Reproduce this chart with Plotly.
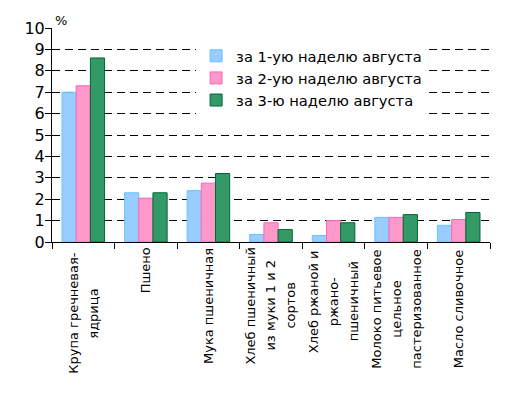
import plotly.graph_objects as go

categories = [
    "Крупа гречневая-<br>ядрица",
    "Пшено",
    "Мука пшеничная",
    "Хлеб пшеничный<br>из муки 1 и 2<br>сортов",
    "Хлеб ржаной и<br>ржано-<br>пшеничный",
    "Молоко питьевое<br>цельное<br>пастеризованное",
    "Масло сливочное",
]
series_names = ["за 1-ую наделю августа", "за 2-ую наделю августа", "за 3-ю наделю августа"]
week1 = [7.0, 2.3, 2.4, 0.35, 0.3, 1.15, 0.78]
week2 = [7.3, 2.05, 2.75, 0.9, 1.0, 1.15, 1.05]
week3 = [8.6, 2.3, 3.2, 0.58, 0.9, 1.28, 1.38]
y_ticks = list(range(0, 11))

fills = ["#99CCFF", "#FF99CC", "#339966"]
borders = ["#66C2FF", "#FF66B8", "#006633"]
FONT = "DejaVu Sans"
LABEL_SIZE = 13
LINE_GAP = 20      # px between label lines
CHAR_W = 7.8       # approx px per char at LABEL_SIZE

x = list(range(len(categories)))
fig = go.Figure()
for name, vals, fc, bc in zip(series_names, [week1, week2, week3], fills, borders):
    fig.add_trace(go.Bar(x=x, y=vals, name=name,
                         marker=dict(color=fc, line=dict(color=bc, width=1))))

# category labels: rotated, lines centred on each other, block starts under axis
for i, c in enumerate(categories):
    lines = c.split("<br>")
    n = len(lines)
    block = max(len(s) for s in lines) * CHAR_W
    for j, s in enumerate(lines):
        fig.add_annotation(x=i, y=0, xref="x", yref="paper", text=s,
                           textangle=-90, showarrow=False, xanchor="center",
                           yanchor="middle", align="center",
                           xshift=(j - (n - 1) / 2) * LINE_GAP,
                           yshift=-(9 + block / 2),
                           font=dict(family=FONT, size=LABEL_SIZE, color="black"))

fig.add_annotation(x=0.0, y=1.0, xref="paper", yref="paper", text="%",
                   showarrow=False, xanchor="left", yanchor="bottom",
                   xshift=1, yshift=-2, font=dict(family=FONT, size=13, color="black"))

fig.update_layout(
    width=497, height=391,
    margin=dict(l=44, r=15, t=20, b=157, autoexpand=False),
    paper_bgcolor="white", plot_bgcolor="white",
    barmode="group", bargap=0.32, bargroupgap=0,
    font=dict(family=FONT, size=14, color="black"),
    legend=dict(x=0.329, y=0.945, xanchor="left", yanchor="top",
                bgcolor="white", font=dict(family=FONT, size=14.7),
                itemwidth=30, tracegroupgap=0),
    showlegend=True,
)
fig.update_xaxes(range=[-0.5, len(categories) - 0.5],
                 tickvals=[i - 0.5 for i in range(len(categories) + 1)],
                 showticklabels=False, ticks="outside", ticklen=6,
                 tickcolor="black", showline=True, linecolor="black",
                 linewidth=1, showgrid=False, zeroline=False, automargin=False)
fig.update_yaxes(range=[0, 10], tickvals=y_ticks, ticks="outside", ticklen=6,
                 tickcolor="black", showline=True, linecolor="black",
                 linewidth=1, showgrid=True, gridcolor="black", gridwidth=1,
                 griddash="8px,5px", zeroline=False, automargin=False,
                 ticklabelstandoff=-3,
                 tickfont=dict(family=FONT, size=16, color="black"))

fig.write_html("out.html")
